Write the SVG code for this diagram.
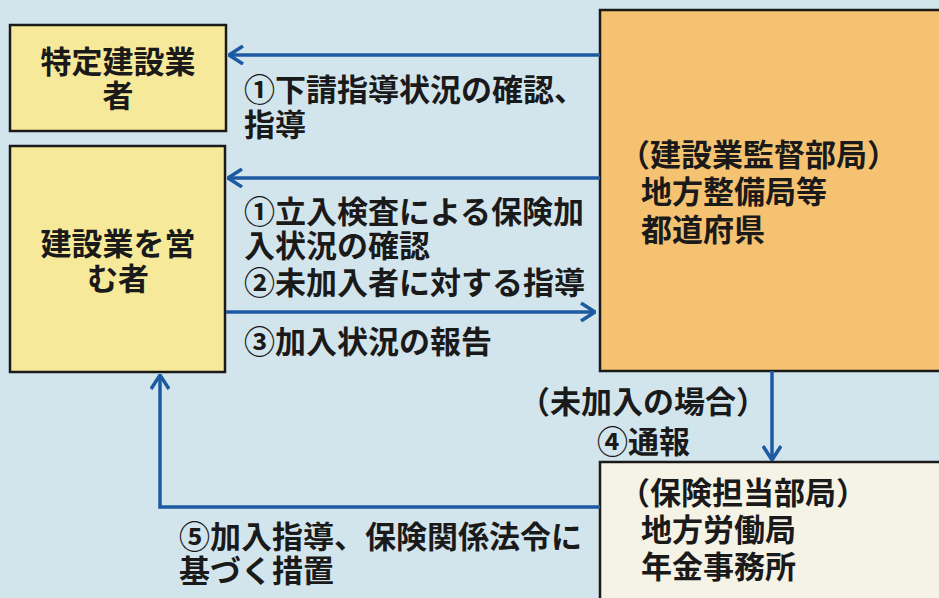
<svg xmlns="http://www.w3.org/2000/svg" width="939" height="598" viewBox="0 0 939 598">
<style>
.t{font-family:"Noto Sans CJK JP","Noto Sans",sans-serif;font-weight:bold;font-size:31px;fill:#1a1a1a}
.c{text-anchor:middle}
.box{stroke:#1a1a1a;stroke-width:2.5}
.ln{fill:none;stroke:#1c5aa2;stroke-width:3.5}
</style>
<defs>
<marker id="ah" viewBox="0 0 16 20" markerWidth="16" markerHeight="20" refX="15" refY="10" orient="auto" markerUnits="userSpaceOnUse">
<path d="M1,1 L15,10 L1,19" fill="none" stroke="#1c5aa2" stroke-width="3.5"/>
</marker>
</defs>
<rect width="939" height="598" fill="#d3e5ec"/>
<g id="n1">
<rect class="box" x="10" y="25" width="216" height="106" fill="#f6ea9a"/>
<text class="t c" x="118" y="73">特定建設業</text>
<text class="t c" x="118" y="107">者</text>
</g>
<g id="n2">
<rect class="box" x="10" y="146" width="215" height="226" fill="#f6ea9a"/>
<text class="t c" x="118" y="255">建設業を営</text>
<text class="t c" x="118" y="290">む者</text>
</g>
<g id="n3">
<rect class="box" x="600" y="10" width="345" height="361" fill="#f5c271"/>
<text class="t" x="619" y="166">（建設業監督部局）</text>
<text class="t" x="641" y="203">地方整備局等</text>
<text class="t" x="641" y="241">都道府県</text>
</g>
<g id="n4">
<rect class="box" x="600" y="462" width="345" height="145" fill="#f5f2e6"/>
<text class="t" x="619" y="504">（保険担当部局）</text>
<text class="t" x="641" y="541">地方労働局</text>
<text class="t" x="641" y="578">年金事務所</text>
</g>
<g id="connectors">
<line class="ln" x1="600" y1="55" x2="229" y2="55" marker-end="url(#ah)"/>
<line class="ln" x1="600" y1="178" x2="228" y2="178" marker-end="url(#ah)"/>
<line class="ln" x1="226" y1="312" x2="595" y2="312" marker-end="url(#ah)"/>
<line class="ln" x1="772" y1="371" x2="772" y2="460" marker-end="url(#ah)"/>
<polyline class="ln" points="600,507 160,507 160,375" marker-end="url(#ah)"/>
</g>
<g id="labels">
<text class="t" x="244" y="101">①下請指導状況の確認、</text>
<text class="t" x="244" y="136">指導</text>
<text class="t" x="244" y="223">①立入検査による保険加</text>
<text class="t" x="244" y="257">入状況の確認</text>
<text class="t" x="244" y="294">②未加入者に対する指導</text>
<text class="t" x="244" y="353">③加入状況の報告</text>
<text class="t" x="519" y="413">（未加入の場合）</text>
<text class="t" x="597" y="453">④通報</text>
<text class="t" x="179" y="548">⑤加入指導、保険関係法令に</text>
<text class="t" x="179" y="582">基づく措置</text>
</g>
</svg>
